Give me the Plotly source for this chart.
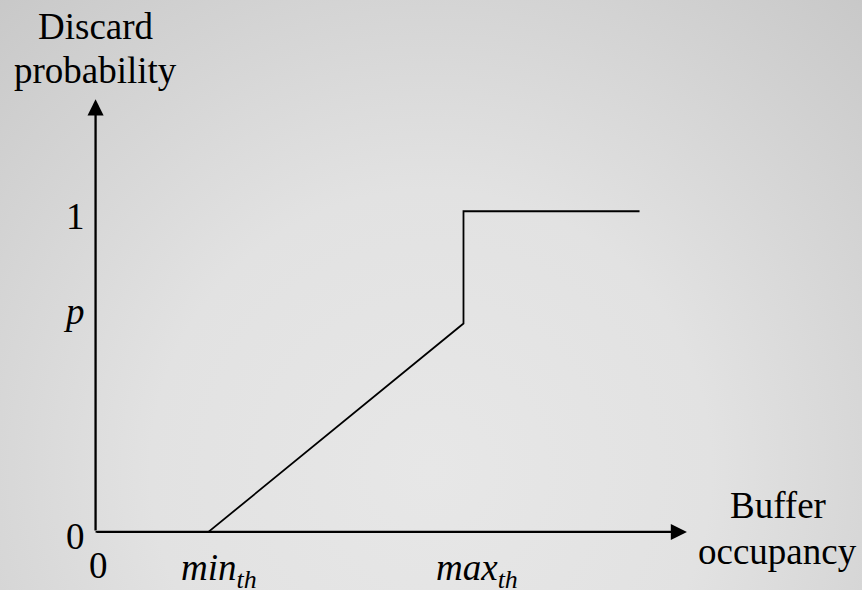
import base64
import plotly.graph_objects as go

# ---- data ----
curve_x = [0, 1.0, 3.26, 3.26, 4.82]          # 0, min_th, max_th, max_th, end
curve_y = [0, 0, 0.65, 1.0, 1.0]
x_tick_vals = [0, 1.0, 3.26]
x_tick_text = ["0", "<i>min<sub>th</sub></i>", "<i>max<sub>th</sub></i>"]
y_tick_vals = [0, 0.65, 1.0]
y_tick_text = ["0", "<i>p</i>", "1"]
x_axis_end = 5.24
y_axis_end = 1.349
x_title = ["Buffer", "occupancy"]
y_title = ["Discard", "probability"]

W, H = 862, 590
L, R, T, B = 73, 157, 83, 26
X_RANGE = [-0.2, 5.4]
Y_RANGE = [-0.1, 1.4]
pw, ph = W - L - R, H - T - B

FONT = "Liberation Serif, Times New Roman, serif"
FS = 37

svg = f'''<svg xmlns="http://www.w3.org/2000/svg" width="{W}" height="{H}" viewBox="0 0 {W} {H}">
<defs><radialGradient id="g" gradientUnits="userSpaceOnUse" cx="431" cy="470" r="700">
<stop offset="0" stop-color="#e7e7e7"/><stop offset="0.4" stop-color="#e2e2e2"/><stop offset="1" stop-color="#c4c4c4"/>
</radialGradient></defs><rect width="{W}" height="{H}" fill="url(#g)"/></svg>'''
src = "data:image/svg+xml;base64," + base64.b64encode(svg.encode()).decode()

fig = go.Figure()
fig.add_trace(go.Scatter(x=curve_x, y=curve_y, mode="lines",
                         line=dict(color="black", width=1.8), hoverinfo="skip",
                         showlegend=False))

ann = []
# axes with arrows
ann.append(dict(x=x_axis_end, y=0, ax=0, ay=0, xref="x", yref="y", axref="x", ayref="y",
                text="", showarrow=True, arrowhead=2, arrowsize=1.4, arrowwidth=2.3,
                arrowcolor="black", standoff=0))
ann.append(dict(x=0, y=y_axis_end, ax=0, ay=0, xref="x", yref="y", axref="x", ayref="y",
                text="", showarrow=True, arrowhead=2, arrowsize=1.4, arrowwidth=2.3,
                arrowcolor="black", standoff=0))

font = dict(family=FONT, size=FS, color="black")
# y tick labels
y_shift = {"0": -5, "<i>p</i>": 12, "1": -5}
for v, t in zip(y_tick_vals, y_tick_text):
    ann.append(dict(x=0, y=v, xref="x", yref="y", text=t, showarrow=False, font=font,
                    xanchor="right", yanchor="middle", xshift=-9, yshift=y_shift[t]))
# x tick labels
for v, t in zip(x_tick_vals, x_tick_text):
    if t == "0":
        ann.append(dict(x=v, y=0, xref="x", yref="y", text=t, showarrow=False, font=font,
                        xanchor="center", yanchor="middle", xshift=3, yshift=-34))
    else:
        ann.append(dict(x=v, y=0, xref="x", yref="y", text=t, showarrow=False, font=font,
                        xanchor="left", yanchor="top", xshift=-29, yshift=-13))
# axis titles
ann.append(dict(x=0, y=y_axis_end, xref="x", yref="y", text=y_title[1], showarrow=False,
                font=font, xanchor="center", yanchor="middle", yshift=(99 - 70)))
ann.append(dict(x=0, y=y_axis_end, xref="x", yref="y", text=y_title[0], showarrow=False,
                font=font, xanchor="center", yanchor="middle", yshift=(99 - 26)))
ann.append(dict(x=x_axis_end, y=0, xref="x", yref="y", text=x_title[0], showarrow=False,
                font=font, xanchor="center", yanchor="middle", xshift=91, yshift=(531 - 505)))
ann.append(dict(x=x_axis_end, y=0, xref="x", yref="y", text=x_title[1], showarrow=False,
                font=font, xanchor="center", yanchor="middle", xshift=91, yshift=(531 - 551)))

fig.update_layout(
    width=W, height=H,
    margin=dict(l=L, r=R, t=T, b=B, pad=0),
    paper_bgcolor="#dcdcdc", plot_bgcolor="rgba(0,0,0,0)",
    xaxis=dict(range=X_RANGE, visible=False, fixedrange=True),
    yaxis=dict(range=Y_RANGE, visible=False, fixedrange=True),
    annotations=ann,
    showlegend=False,
    images=[dict(source=src, xref="paper", yref="paper",
                 x=-L / pw, y=1 + T / ph, sizex=W / pw, sizey=H / ph,
                 xanchor="left", yanchor="top", sizing="stretch", layer="below")],
)

fig.write_html("out.html", config={"displayModeBar": False},
               post_script="document.body.style.margin='0';document.body.style.overflow='hidden';")
